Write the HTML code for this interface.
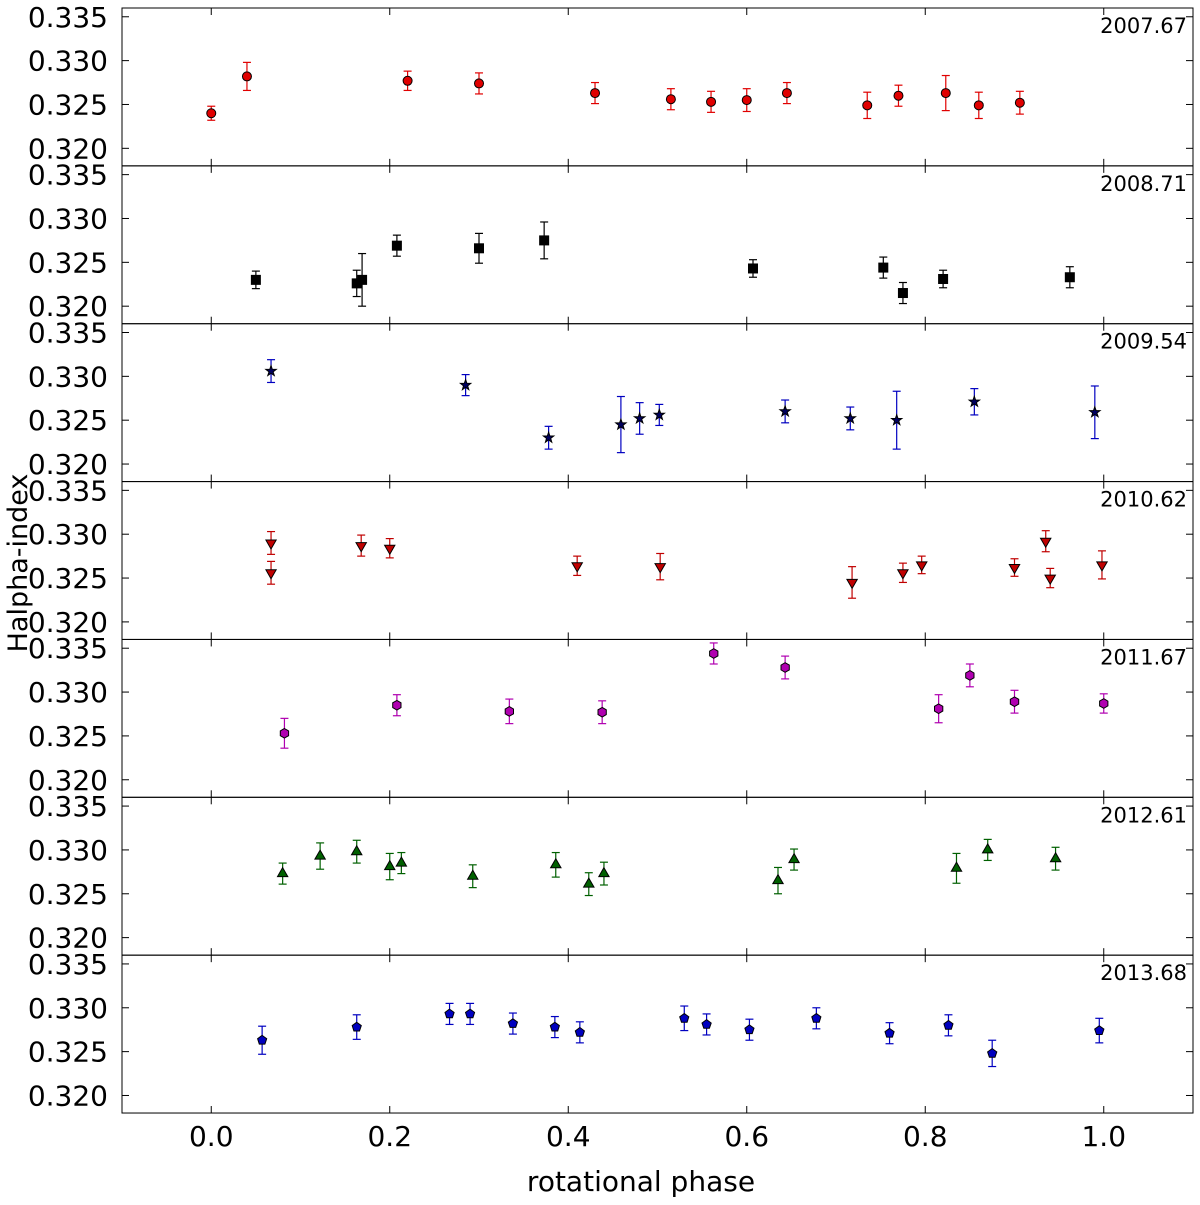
<!DOCTYPE html>
<html><head><meta charset="utf-8"><style>
body{margin:0;background:#fff;}
svg text{font-family:"DejaVu Sans","Liberation Sans",sans-serif;}
</style></head><body>
<svg id="chart" width="1200" height="1200" viewBox="0 0 1200 1200" xmlns="http://www.w3.org/2000/svg"></svg>
<script>
const years = ["2007.67","2008.71","2009.54","2010.62","2011.67","2012.61","2013.68"];
const markers = ["circle","square","star","tdown","hex","tup","pent"];
const fills = ["#e00000","#000000","#000060","#c00000","#b000b0","#006000","#0000c0"];
const ecols = ["#e00000","#000000","#0000c0","#c00000","#b000b0","#006000","#0000c0"];
const xTicks = [0.0,0.2,0.4,0.6,0.8,1.0];
const xTickLabels = ["0.0","0.2","0.4","0.6","0.8","1.0"];
const yTicks = [0.320,0.325,0.330,0.335];
const yTickLabels = ["0.320","0.325","0.330","0.335"];
const phase2007 = [0.0,0.04,0.22,0.30,0.43,0.515,0.56,0.60,0.645,0.735,0.77,0.823,0.86,0.906];
const val2007 = [0.3240,0.3282,0.3277,0.3274,0.3263,0.3256,0.3253,0.3255,0.3263,0.3249,0.3260,0.3263,0.3249,0.3252];
const err2007 = [0.0008,0.0016,0.0011,0.0012,0.0012,0.0012,0.0012,0.0013,0.0012,0.0015,0.0012,0.002,0.0015,0.0013];
const phase2008 = [0.05,0.163,0.169,0.208,0.30,0.373,0.607,0.753,0.775,0.82,0.962];
const val2008 = [0.3230,0.3226,0.3230,0.3269,0.3266,0.3275,0.3243,0.3244,0.3215,0.3231,0.3233];
const err2008 = [0.001,0.0015,0.003,0.0012,0.0017,0.0021,0.001,0.0012,0.0012,0.001,0.0012];
const phase2009 = [0.067,0.285,0.378,0.459,0.48,0.502,0.643,0.716,0.768,0.855,0.99];
const val2009 = [0.3306,0.3290,0.3230,0.3245,0.3252,0.3256,0.3260,0.3252,0.3250,0.3271,0.3259];
const err2009 = [0.0013,0.0012,0.0013,0.0032,0.0018,0.0012,0.0013,0.0013,0.0033,0.0015,0.003];
const phase2010 = [0.067,0.067,0.168,0.2,0.41,0.503,0.718,0.775,0.796,0.9,0.935,0.94,0.998];
const val2010 = [0.3290,0.3256,0.3287,0.3284,0.3264,0.3263,0.3245,0.3256,0.3265,0.3262,0.3292,0.3250,0.3265];
const err2010 = [0.0013,0.0013,0.0012,0.0011,0.0011,0.0015,0.0018,0.0011,0.001,0.001,0.0012,0.0011,0.0016];
const phase2011 = [0.082,0.208,0.334,0.438,0.563,0.643,0.815,0.85,0.9,1.0];
const val2011 = [0.3253,0.3285,0.3278,0.3277,0.3344,0.3328,0.3281,0.3319,0.3289,0.3287];
const err2011 = [0.0017,0.0012,0.0014,0.0013,0.0012,0.0013,0.0016,0.0013,0.0013,0.0011];
const phase2012 = [0.08,0.122,0.163,0.2,0.213,0.293,0.386,0.423,0.44,0.635,0.653,0.835,0.87,0.946];
const val2012 = [0.3273,0.3293,0.3298,0.3281,0.3285,0.3270,0.3283,0.3261,0.3273,0.3265,0.3289,0.3279,0.3300,0.3290];
const err2012 = [0.0012,0.0015,0.0013,0.0015,0.0012,0.0013,0.0014,0.0013,0.0013,0.0015,0.0012,0.0017,0.0012,0.0013];
const phase2013 = [0.057,0.163,0.267,0.29,0.338,0.385,0.413,0.53,0.555,0.603,0.678,0.76,0.826,0.875,0.995];
const val2013 = [0.3263,0.3278,0.3293,0.3293,0.3282,0.3278,0.3272,0.3288,0.3281,0.3275,0.3288,0.3271,0.3280,0.3248,0.3274];
const err2013 = [0.0016,0.0014,0.0012,0.0012,0.0012,0.0012,0.0012,0.0014,0.0012,0.0012,0.0012,0.0012,0.0012,0.0015,0.0014];

const phases=[phase2007,phase2008,phase2009,phase2010,phase2011,phase2012,phase2013];
const vals=[val2007,val2008,val2009,val2010,val2011,val2012,val2013];
const errs=[err2007,err2008,err2009,err2010,err2011,err2012,err2013];

const NS="http://www.w3.org/2000/svg";
const svg=document.getElementById('chart');
const L=122,R=1193,T=8,PH=157.86;
const XMIN=-0.1,XMAX=1.1,YMIN=0.318,YMAX=0.336;
function xs(v){return L+(v-XMIN)/(XMAX-XMIN)*(R-L);}
function ys(v,p){return T+p*PH+(YMAX-v)/(YMAX-YMIN)*PH;}
function mk(tag,attrs){const e=document.createElementNS(NS,tag);for(const k in attrs)e.setAttribute(k,attrs[k]);svg.appendChild(e);return e;}
function poly(cx,cy,n,r,rot){let p=[];for(let i=0;i<n;i++){const a=rot+i*2*Math.PI/n;p.push((cx+r*Math.cos(a)).toFixed(1)+","+(cy+r*Math.sin(a)).toFixed(1));}return p.join(" ");}
function star(cx,cy,r){let p=[];for(let i=0;i<10;i++){const a=-Math.PI/2+i*Math.PI/5;const rr=i%2?r*0.4:r;p.push((cx+rr*Math.cos(a)).toFixed(1)+","+(cy+rr*Math.sin(a)).toFixed(1));}return p.join(" ");}

for(let p=0;p<7;p++){
  const top=T+p*PH;
  let e=mk('rect',{x:L,y:top,width:R-L,height:PH,fill:'none',stroke:'#000','stroke-width':1});
  
  
  for(let i=0;i<yTicks.length;i++){
    const y=ys(yTicks[i],p);
    mk('line',{x1:L,x2:L+7,y1:y,y2:y,stroke:'#000'});
    mk('line',{x1:R-7,x2:R,y1:y,y2:y,stroke:'#000'});
    const t=mk('text',{x:L-14,y:y+10,'text-anchor':'end','font-size':28});
    t.textContent=yTickLabels[i];
    
    
  }
  for(const xv of xTicks){
    const x=xs(xv);
    mk('line',{x1:x,x2:x,y1:top,y2:top+7,stroke:'#000'});
    mk('line',{x1:x,x2:x,y1:top+PH-7,y2:top+PH,stroke:'#000'});
  }
  const yl=mk('text',{x:R-6,y:top+25,'text-anchor':'end','font-size':21});
  yl.textContent=years[p];
  
  
  const ph=phases[p],v=vals[p],er=errs[p];
  for(let i=0;i<ph.length;i++){
    const cx=xs(ph[i]),cy=ys(v[i],p),y1=ys(v[i]+er[i],p),y2=ys(v[i]-er[i],p);
    mk('line',{x1:cx,x2:cx,y1:y1,y2:y2,stroke:ecols[p],'stroke-width':1.2});
    mk('line',{x1:cx-4,x2:cx+4,y1:y1,y2:y1,stroke:ecols[p],'stroke-width':1.2});
    mk('line',{x1:cx-4,x2:cx+4,y1:y2,y2:y2,stroke:ecols[p],'stroke-width':1.2});
    let m;const st={fill:fills[p],stroke:'#000','stroke-width':1};
    const k=markers[p];
    if(k==='circle'){m=mk('circle',Object.assign({cx:cx,cy:cy,r:4.5},st));}
    else if(k==='square'){m=mk('rect',Object.assign({x:cx-4.5,y:cy-4.5,width:9,height:9},st));}
    else if(k==='star'){m=mk('polygon',Object.assign({points:star(cx,cy,5.5)},st));}
    else if(k==='tdown'){m=mk('polygon',Object.assign({points:poly(cx,cy,3,6,Math.PI/2)},st));}
    else if(k==='tup'){m=mk('polygon',Object.assign({points:poly(cx,cy,3,6,-Math.PI/2)},st));}
    else if(k==='hex'){m=mk('polygon',Object.assign({points:poly(cx,cy,6,4.8,-Math.PI/2)},st));}
    else {m=mk('polygon',Object.assign({points:poly(cx,cy,5,4.8,-Math.PI/2)},st));}
    
    
  }
}
for(let i=0;i<xTicks.length;i++){
  const t=mk('text',{x:xs(xTicks[i]),y:1146,'text-anchor':'middle','font-size':28});
  t.textContent=xTickLabels[i];
  
  
}
const xt=mk('text',{x:641,y:1191,'text-anchor':'middle','font-size':28});
xt.textContent='rotational phase';


const yt=mk('text',{x:27,y:563,'text-anchor':'middle','font-size':27,transform:'rotate(-90 27 563)'});
yt.textContent='Halpha-index';


</script>
</body></html>
